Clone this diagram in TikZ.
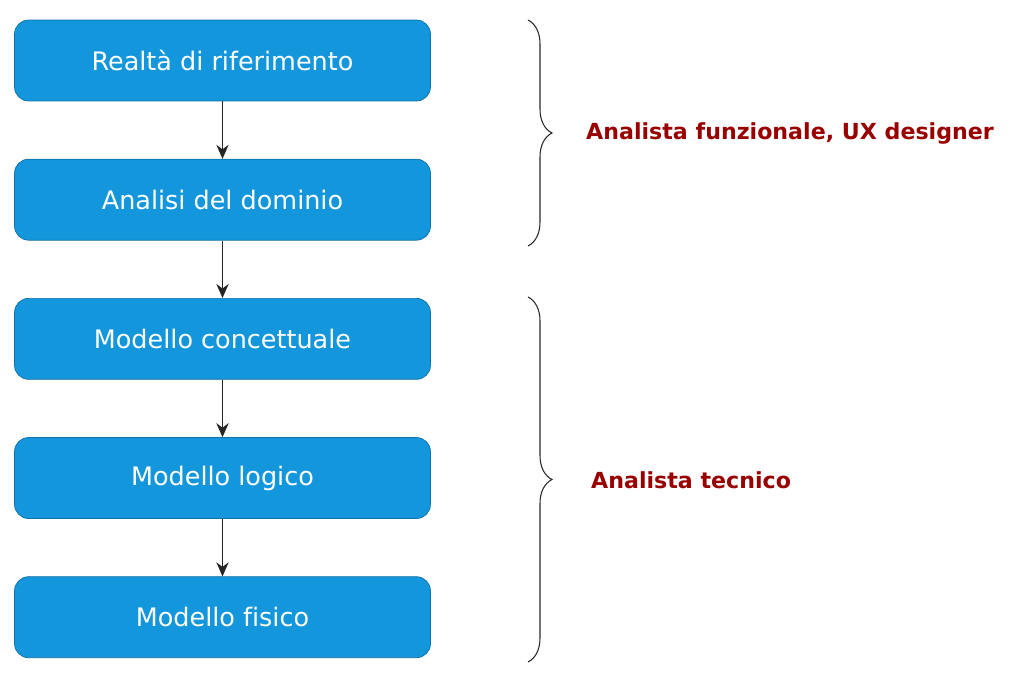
\documentclass[tikz,border=0pt]{standalone}
\usepackage{fontspec}
\setmainfont{DejaVu Sans}[Ligatures=CommonOff]
\usetikzlibrary{positioning,arrows.meta,decorations.pathreplacing}
\definecolor{boxblue}{HTML}{1396DB}
\definecolor{boxedge}{HTML}{0F6FA6}
\definecolor{rolered}{HTML}{990000}
\tikzset{
  fase/.style={draw=boxedge, fill=boxblue, rounded corners=8pt, text=white,
    minimum width=8.32cm, minimum height=1.62cm, inner sep=0pt,
    font=\fontsize{14.5}{17}\selectfont},
  freccia/.style={draw=black!85, line width=0.6pt, -{Stealth[length=8pt,width=7pt]}},
  graffa/.style={draw=black!85, line width=0.6pt, decorate,
    decoration={brace, amplitude=0.48cm}},
  ruolo/.style={text=rolered, anchor=west,
    font=\fontsize{12.6}{15}\selectfont\bfseries}
}
\begin{document}
\begin{tikzpicture}[x=0.02cm, y=-0.02cm]
  \useasboundingbox (0,0) rectangle (1024,686);
  % fasi
  \node[fase] (realta) at (222.5,60.5) {Realtà di riferimento};
  \node[fase, below=1.15cm of realta] (dominio) {Analisi del dominio};
  \node[fase, below=1.15cm of dominio] (concettuale) {Modello concettuale};
  \node[fase, below=1.15cm of concettuale] (logico) {Modello logico};
  \node[fase, below=1.15cm of logico] (fisico) {Modello fisico};
  \draw[freccia] (realta) -- (dominio);
  \draw[freccia] (dominio) -- (concettuale);
  \draw[freccia] (concettuale) -- (logico);
  \draw[freccia] (logico) -- (fisico);
  % graffe
  \coordinate (g1a) at (528,20);
  \coordinate (g1b) at (528,246);
  \coordinate (g2a) at (528,297);
  \coordinate (g2b) at (528,662);
  \draw[graffa] (g1a) -- (g1b);
  \draw[graffa] (g2a) -- (g2b);
  \node[ruolo] (funzionale) at (580,133) {Analista funzionale, UX designer};
  \node[ruolo] (tecnico) at (585,480) {Analista tecnico};
\end{tikzpicture}
\end{document}
